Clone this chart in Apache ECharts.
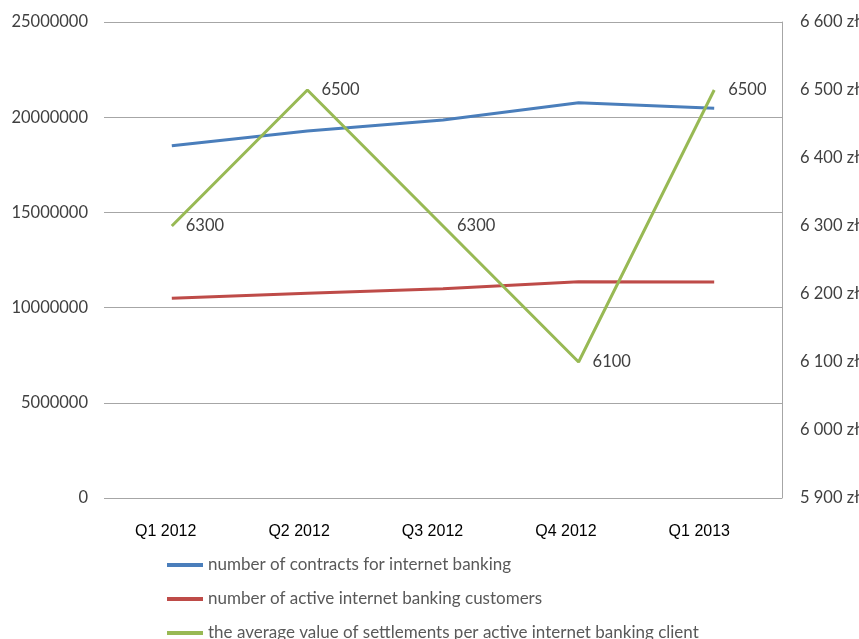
<!DOCTYPE html>
<html>
<head>
<meta charset="utf-8">
<script src="https://cdn.jsdelivr.net/npm/echarts@6/dist/echarts.min.js"></script>
<style>
  html, body { margin: 0; padding: 0; background: #ffffff; }
  #chart { width: 859px; height: 639px; }
</style>
</head>
<body>
<div id="chart"></div>
<script>
// Quarterly internet banking figures
const categories = ['Q1 2012', 'Q2 2012', 'Q3 2012', 'Q4 2012', 'Q1 2013'];
const contracts = [18500000, 19270000, 19850000, 20760000, 20470000];
const activeCustomers = [10490000, 10750000, 10990000, 11360000, 11350000];
const avgSettlement = [6300, 6500, 6300, 6100, 6500];
const seriesNames = [
  'number of contracts for internet banking',
  'number of active internet banking customers',
  'the average value of settlements per active internet banking client'
];

const GRID_COLOR = '#a6a6a6';
const TEXT_COLOR = '#404040';
const UI_FONT = 'Lato';

function plnFormat(v) {
  return String(v).replace(/\B(?=(\d{3})+(?!\d))/g, ' ') + ' zł';
}

// one legend block per series, stacked below the plot
const legendTops = [556, 590, 624];
const legends = seriesNames.map((name, i) => ({
  orient: 'vertical',
  left: 167,
  top: legendTops[i],
  padding: 0,
  itemWidth: 36,
  itemHeight: 4,
  icon: 'rect',
  data: [name],
  textStyle: { fontFamily: UI_FONT, fontSize: 17, color: '#595959', lineHeight: 18 }
}));

const chart = echarts.init(document.getElementById('chart'), null, { renderer: 'canvas' });

chart.setOption({
  animation: false,
  backgroundColor: '#ffffff',
  grid: [
    { left: 104, right: 77, top: 22, bottom: 141, outerBoundsMode: 'none', containLabel: false },
    // carries the category labels only
    { left: 99, right: 93, top: 22, bottom: 141, outerBoundsMode: 'none', containLabel: false }
  ],
  legend: legends,
  xAxis: [
    {
      type: 'category',
      gridIndex: 0,
      data: categories,
      boundaryGap: true,
      axisLine: { show: false },
      axisTick: { show: false },
      axisLabel: { show: false }
    },
    {
      type: 'category',
      gridIndex: 1,
      data: categories,
      boundaryGap: true,
      axisLine: { show: false },
      axisTick: { show: false },
      axisLabel: {
        margin: 26,
        fontFamily: 'Liberation Sans',
        fontSize: 16,
        color: '#000000'
      }
    }
  ],
  yAxis: [
    {
      type: 'value',
      gridIndex: 0,
      min: 0,
      max: 25000000,
      interval: 5000000,
      axisLine: { show: false },
      axisTick: { show: false },
      splitLine: { show: true, lineStyle: { color: GRID_COLOR, width: 1 } },
      axisLabel: {
        margin: 16,
        fontFamily: UI_FONT,
        fontSize: 16.5,
        color: TEXT_COLOR,
        formatter: (v) => String(v)
      }
    },
    {
      type: 'value',
      gridIndex: 0,
      position: 'right',
      min: 5900,
      max: 6600,
      interval: 100,
      axisLine: { show: true, lineStyle: { color: GRID_COLOR, width: 1 } },
      axisTick: { show: false },
      splitLine: { show: false },
      axisLabel: {
        margin: 18,
        fontFamily: UI_FONT,
        fontSize: 16.5,
        color: TEXT_COLOR,
        formatter: plnFormat
      }
    },
    {
      type: 'value',
      gridIndex: 1,
      show: false
    }
  ],
  series: [
    {
      name: seriesNames[0],
      type: 'line',
      xAxisIndex: 0,
      yAxisIndex: 0,
      data: contracts,
      symbol: 'none',
      color: '#4a7ebb',
      lineStyle: { color: '#4a7ebb', width: 3 }
    },
    {
      name: seriesNames[1],
      type: 'line',
      xAxisIndex: 0,
      yAxisIndex: 0,
      data: activeCustomers,
      symbol: 'none',
      color: '#be4b48',
      lineStyle: { color: '#be4b48', width: 3 }
    },
    {
      name: seriesNames[2],
      type: 'line',
      xAxisIndex: 0,
      yAxisIndex: 1,
      data: avgSettlement,
      symbol: 'circle',
      symbolSize: 0,
      showSymbol: true,
      color: '#98b954',
      lineStyle: { color: '#98b954', width: 3 },
      label: {
        show: true,
        position: 'right',
        distance: 14,
        fontFamily: UI_FONT,
        fontSize: 16.5,
        color: TEXT_COLOR
      },
      z: 3
    }
  ]
});
</script>
</body>
</html>
